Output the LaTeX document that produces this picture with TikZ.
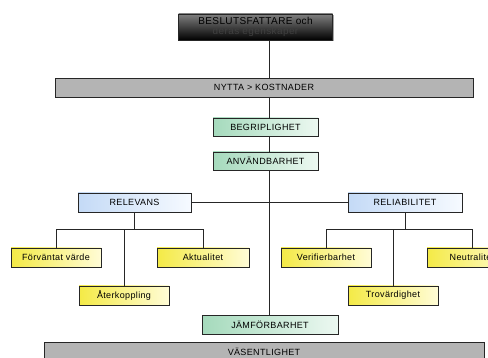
\documentclass[tikz,border=0pt]{standalone}
\usepackage{fontspec}
\setmainfont{Liberation Sans}
\newfontfamily\lblfont[LetterSpace=4]{Liberation Sans}
\usetikzlibrary{shadows}
\definecolor{grnL}{RGB}{165,218,188}
\definecolor{grnR}{RGB}{236,248,241}
\definecolor{bluL}{RGB}{196,218,246}
\definecolor{bluR}{RGB}{246,250,255}
\definecolor{yelL}{RGB}{244,234,70}
\definecolor{yelR}{RGB}{255,252,214}
\definecolor{barfill}{RGB}{180,180,180}
\begin{document}
\begin{tikzpicture}[x=1pt,y=-1pt,
  base/.style={draw=black!85,line width=0.6pt,inner sep=0pt,
    font=\lblfont\fontsize{9}{10}\selectfont,
    drop shadow={shadow xshift=1pt,shadow yshift=-1pt,fill=black!35,opacity=1}},
  greenbox/.style={base,left color=grnL,right color=grnR,minimum width=105pt,minimum height=18pt},
  bluebox/.style={base,left color=bluL,right color=bluR,minimum width=113pt,minimum height=19pt},
  yellowbox/.style={base,left color=yelL,right color=yelR,minimum width=90pt,minimum height=19pt},
  bar/.style={base,fill=barfill,minimum height=19pt},
  link/.style={draw=black!85,line width=0.7pt}]
\useasboundingbox (0,0) rectangle (488,358);
\clip (0,0) rectangle (488,358);

% header box
\node[base,top color=black!50,bottom color=black,minimum width=154pt,minimum height=26pt,
      align=center,font=\lblfont\fontsize{10}{10}\selectfont] (top) at (255.5,27)
      {BESLUTSFATTARE och\\[-0.5pt]\textcolor{black!75}{deras egenskaper}};

% wide bars
\node[bar,minimum width=418pt] (nytta) at (264,87.5) {NYTTA > KOSTNADER};
\node[bar,minimum width=440pt] (vasent) at (264,352) {VÄSENTLIGHET};

% main qualities
\node[greenbox] (begrip) at (265.5,127) {BEGRIPLIGHET};
\node[greenbox] (anvand) at (265.5,161) {ANVÄNDBARHET};
\node[greenbox,minimum width=136pt,minimum height=19pt] (jamfor) at (270,325) {JÄMFÖRBARHET};

\node[bluebox] (relevans) at (134.5,202.5) {RELEVANS};
\node[bluebox,minimum width=114pt] (reliab) at (405,202.5) {RELIABILITET};

% sub-qualities
\node[yellowbox] (forv) at (56,257.5) {Förväntat värde};
\node[yellowbox,minimum width=92pt] (aktu) at (203,257.5) {Aktualitet};
\node[yellowbox] (ater) at (124,295.5) {Återkoppling};
\node[yellowbox] (verif) at (326,257.5) {Verifierbarhet};
\node[yellowbox] (neutr) at (472,257.5) {Neutralitet};
\node[yellowbox] (trov) at (393,295.5) {Trovärdighet};

% trunk
\coordinate (tx) at (269.5,0);
\coordinate (bus) at (0,229);
\draw[link] (top.south -| tx) -- (nytta.north -| tx);
\draw[link] (nytta.south -| tx) -- (begrip.north -| tx);
\draw[link] (begrip.south -| tx) -- (anvand.north -| tx);
\draw[link] (anvand.south -| tx) -- (jamfor.north -| tx);

% relevance / reliability
\draw[link] (relevans.east) -- (reliab.west);

\draw[link] (relevans.south) -- (relevans.south |- bus);
\draw[link] (forv.north) -- (forv.north |- bus) -- (aktu.north |- bus) -- (aktu.north);
\draw[link] (ater.north) -- (ater.north |- bus);

\draw[link] (reliab.south) -- (reliab.south |- bus);
\draw[link] (verif.north) -- (verif.north |- bus) -- (neutr.north |- bus) -- (neutr.north);
\draw[link] (trov.north) -- (trov.north |- bus);
\end{tikzpicture}
\end{document}
